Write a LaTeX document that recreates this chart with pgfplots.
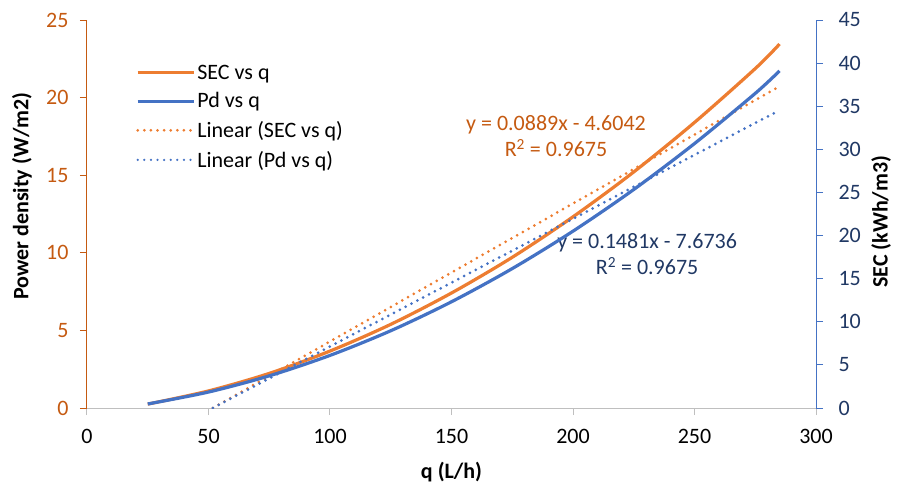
\documentclass[border=0pt]{standalone}
\usepackage{pgfplots}
\pgfplotsset{compat=1.18}
\usepackage{fontspec}
\setmainfont{Carlito}
\definecolor{sec}{HTML}{ED7D31}
\definecolor{pd}{HTML}{4472C4}
\definecolor{secdark}{HTML}{C55A11}
\definecolor{pddark}{HTML}{203864}
\definecolor{axgray}{HTML}{BFBFBF}
\newcommand{\fs}{\fontsize{22}{26}\selectfont}
\pgfplotsset{
  common/.style={
    at={(0pt,0pt)}, anchor=south west,
    scale only axis, width=729pt, height=388pt,
    xmin=0, xmax=300,
    tick align=outside, major tick length=7pt,
    /pgf/number format/assume math mode=true,
    ticklabel style={font=\fs},
  },
  curve/.style={line width=3.2pt, smooth},
  trend/.style={line width=3pt, line cap=round, dash pattern=on 0pt off 6.6pt},
}
\begin{document}
\begin{tikzpicture}
\useasboundingbox (-87pt,-83pt) rectangle (819pt,408pt);
\begin{axis}[common,
  ymin=0, ymax=25,
  xtick={0,50,...,300}, ytick={0,5,...,25},
  axis x line*=bottom, axis y line*=left,
  x axis line style={axgray, line width=1pt, -},
  y axis line style={secdark, line width=1pt, -},
  xtick style={axgray, line width=1pt},
  ytick style={secdark, line width=1pt},
  xticklabel style={text=black, yshift=-11pt},
  yticklabel style={text=secdark, xshift=-8pt},
  xlabel={q (L/h)}, ylabel={Power density (W/m2)},
  every axis x label/.style={at={(axis description cs:0.5,0)}, yshift=-64pt, anchor=center, font=\fs\bfseries},
  every axis y label/.style={at={(axis description cs:0,0.546)}, xshift=-65pt, rotate=90, anchor=center, font=\fs\bfseries},
  legend style={draw=none, fill=none, at={(0.063,0.895)}, anchor=north west,
    font=\fs, cells={anchor=west}, row sep=8pt},
  legend image code/.code={\draw[#1] (0pt,0pt) -- (56pt,0pt);},
]
\addplot[sec, curve] coordinates {
 (25,0.25) (50,1.10) (75,2.23) (100,3.67) (125,5.39) (150,7.41) (175,9.71)
 (200,12.32) (225,15.21) (250,18.40) (275,21.87) (285,23.45)};
\addlegendentry{SEC vs q}
\addlegendimage{pd, line width=3.2pt}
\addlegendentry{Pd vs q}
\addplot[sec, trend] coordinates {(51.8,0) (285,20.73)};
\addlegendentry{Linear (SEC vs q)}
\addlegendimage{pd, line width=2.5pt, line cap=round, dash pattern=on 0pt off 6.6pt}
\addlegendentry{Linear (Pd vs q)}
\node[text=secdark, font=\fs, align=center] at (axis cs:193,17.5) {y = 0.0889x - 4.6042\\R\textsuperscript{2} = 0.9675};
\node[text=pddark, font=\fs, align=center] at (axis cs:230.5,9.9) {y = 0.1481x - 7.6736\\R\textsuperscript{2} = 0.9675};
\end{axis}
\begin{axis}[common,
  ymin=0, ymax=45, ytick={0,5,...,45},
  axis y line*=right, axis x line=none,
  y axis line style={pd, line width=1pt, -},
  ytick style={pd, line width=1pt},
  yticklabel style={text=pddark, xshift=12pt},
  ylabel={SEC (kWh/m3)},
  every axis y label/.style={at={(axis description cs:1,0.48)}, xshift=65pt, rotate=90, anchor=center, font=\fs\bfseries},
]
\addplot[pd, curve] coordinates {
 (25,0.47) (50,1.85) (75,3.73) (100,6.10) (125,8.96) (150,12.32) (175,16.17)
 (200,20.51) (225,25.34) (250,30.67) (275,36.49) (285,39.10)};
\addplot[pd, trend] coordinates {(51.8,0) (285,34.535)};
\end{axis}
\end{tikzpicture}
\end{document}
